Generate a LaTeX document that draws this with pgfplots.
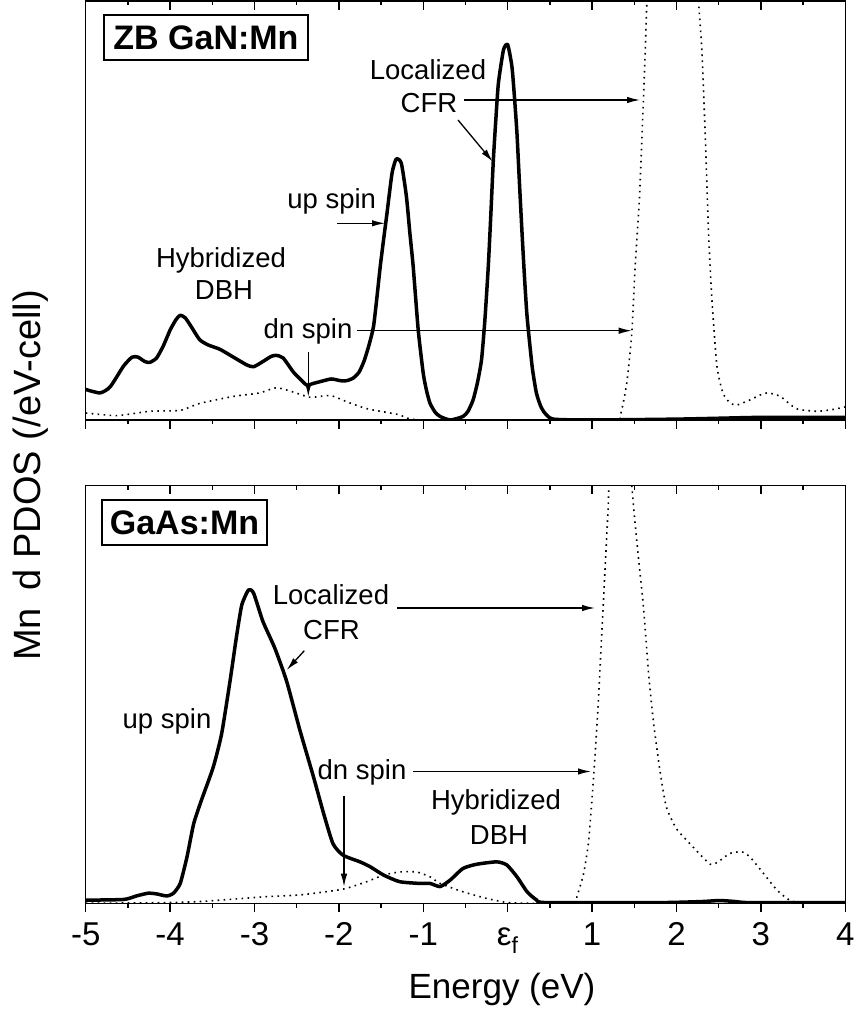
\documentclass[border=0pt]{standalone}
\usepackage{pgfplots}
\pgfplotsset{compat=1.18}
\usepackage{pgfplotstable}
\usepackage{fontspec}
\setmainfont{Liberation Sans}
\usetikzlibrary{arrows.meta}

\pgfplotstableread{
E v
-5.00 0.35
-4.83 0.31
-4.71 0.38
-4.55 0.62
-4.45 0.72
-4.38 0.72
-4.30 0.67
-4.24 0.66
-4.16 0.71
-4.08 0.85
-4.00 1.03
-3.93 1.15
-3.88 1.20
-3.82 1.17
-3.75 1.07
-3.65 0.92
-3.55 0.86
-3.41 0.81
-3.25 0.72
-3.09 0.63
-3.01 0.61
-2.90 0.67
-2.80 0.73
-2.74 0.74
-2.66 0.71
-2.54 0.55
-2.45 0.46
-2.38 0.40
-2.30 0.42
-2.22 0.44
-2.09 0.47
-1.98 0.45
-1.91 0.45
-1.83 0.48
-1.76 0.55
-1.70 0.68
-1.64 0.87
-1.59 1.07
-1.55 1.40
-1.51 1.76
-1.47 2.07
-1.43 2.37
-1.37 2.83
-1.32 2.99
-1.26 2.94
-1.20 2.56
-1.16 2.15
-1.12 1.76
-1.06 1.03
-1.00 0.53
-0.96 0.33
-0.92 0.19
-0.86 0.09
-0.80 0.04
-0.68 0.00
-0.53 0.04
-0.47 0.10
-0.41 0.23
-0.36 0.42
-0.31 0.69
-0.27 1.15
-0.23 1.76
-0.20 2.35
-0.17 2.98
-0.14 3.45
-0.11 3.86
-0.05 4.24
0.00 4.30
0.05 4.05
0.08 3.70
0.11 3.28
0.14 2.70
0.17 2.14
0.20 1.62
0.23 1.18
0.29 0.61
0.34 0.31
0.39 0.16
0.44 0.08
0.54 0.01
1.00 0.00
2.00 0.01
2.50 0.02
3.00 0.03
4.00 0.03
}\topup

\pgfplotstableread{
E v
-5.00 0.08
-4.63 0.05
-4.24 0.10
-3.88 0.11
-3.65 0.19
-3.25 0.27
-2.94 0.31
-2.74 0.37
-2.54 0.32
-2.34 0.26
-2.10 0.28
-1.91 0.21
-1.67 0.13
-1.28 0.06
-1.00 0.00
1.22 0.00
1.33 0.04
1.41 0.42
1.47 0.99
1.51 1.76
1.56 2.52
1.60 3.47
1.63 4.24
1.65 4.81
1.70 5.8
1.80 7.5
1.95 8.5
2.10 7.5
2.20 5.8
2.26 4.81
2.30 4.24
2.34 3.28
2.38 2.14
2.42 1.37
2.48 0.61
2.55 0.31
2.63 0.20
2.71 0.17
2.87 0.23
3.00 0.29
3.09 0.31
3.23 0.27
3.42 0.13
3.66 0.10
3.85 0.12
4.00 0.15
}\topdn

\pgfplotstableread{
E v
-5.00 0.09
-4.55 0.11
-4.40 0.21
-4.26 0.29
-4.16 0.27
-4.04 0.21
-3.96 0.29
-3.88 0.57
-3.80 1.33
-3.72 2.29
-3.63 2.95
-3.49 3.90
-3.39 4.86
-3.29 6.38
-3.21 7.71
-3.15 8.57
-3.07 9.00
-3.01 8.90
-2.90 8.09
-2.76 7.33
-2.62 6.38
-2.46 4.95
-2.30 3.62
-2.18 2.57
-2.07 1.71
-1.95 1.38
-1.75 1.19
-1.63 1.05
-1.47 0.81
-1.28 0.62
-1.04 0.57
-0.92 0.57
-0.80 0.48
-0.68 0.67
-0.53 1.00
-0.37 1.12
-0.13 1.19
-0.01 1.10
0.11 0.76
0.23 0.33
0.34 0.10
0.46 0.02
1.80 0.02
2.30 0.05
2.51 0.08
2.70 0.05
2.87 0.02
4.00 0.02
}\botup

\pgfplotstableread{
E v
-5.00 0.00
-4.04 0.02
-3.65 0.05
-3.25 0.12
-2.86 0.19
-2.46 0.24
-2.07 0.36
-1.91 0.43
-1.67 0.62
-1.47 0.81
-1.28 0.90
-1.08 0.90
-0.92 0.76
-0.80 0.57
-0.53 0.33
-0.25 0.14
0.00 0.02
0.27 0.00
0.78 0.00
0.82 0.19
0.90 0.86
0.96 1.81
1.02 3.71
1.07 5.62
1.11 7.52
1.15 9.43
1.19 11.33
1.20 12.0
1.25 14.0
1.33 15.5
1.42 14.0
1.47 12.0
1.53 10.38
1.61 8.47
1.67 6.57
1.73 5.14
1.81 3.71
1.88 2.76
2.00 2.14
2.16 1.71
2.40 1.12
2.51 1.22
2.63 1.43
2.77 1.48
2.87 1.33
3.03 0.86
3.19 0.38
3.34 0.09
3.50 0.00
4.00 0.00
}\botdn

\pgfplotsset{
  frame/.style={scale only axis, width=759.6pt, xmin=-5, xmax=4,
    anchor=south west,
    axis line style={line width=1.4pt},
    every tick/.style={line width=1.4pt, black},
    xtick={-5,-4,...,4}, minor x tick num=1,
    ytick=\empty, xticklabels={}, yticklabels={},
    major tick length=9pt, minor tick length=4.5pt},
  upline/.style={black, line width=3.5pt, line join=round, smooth, tension=0.35},
  dnline/.style={black, line width=1.6pt, dash pattern=on 1.6pt off 4.4pt, smooth, tension=0.35},
}

\newcommand{\ann}{\fontsize{27.5}{33}\selectfont}
\tikzset{arr/.style={line width=1.3pt, -{Latex[length=13pt,width=6.5pt]}}}

\begin{document}
\begin{tikzpicture}[x=1pt,y=1pt]
\useasboundingbox (0pt,0pt) rectangle (856pt,1013pt);

% ---------- top panel ----------
\begin{axis}[frame, height=419pt, ymin=0, ymax=4.8, at={(85.7pt,593pt)},
  tick align=outside, xtick pos=left]
\addplot[upline] table {\topup};
\addplot[dnline] table {\topdn};
\end{axis}
\begin{axis}[frame, height=419pt, ymin=0, ymax=4.8, at={(85.7pt,593pt)},
  tick align=inside, xtick pos=right, minor ytick={0,1,2,3,4}, ytick pos=both]
\end{axis}

% ---------- bottom panel ----------
\begin{axis}[frame, height=418pt, ymin=0, ymax=12, at={(85.7pt,109.7pt)},
  tick align=outside, xtick pos=left,
  xticklabels={-5,-4,-3,-2,-1,{ε\textsubscript{f}},1,2,3,4},
  xticklabel style={font=\fontsize{33}{38}\selectfont, anchor=base, yshift=-33.1pt}]
\addplot[upline] table {\botup};
\addplot[dnline] table {\botdn};
\end{axis}
\begin{axis}[frame, height=418pt, ymin=0, ymax=12, at={(85.7pt,109.7pt)},
  tick align=inside, xtick pos=right, minor ytick={0,1,...,12}, ytick pos=both]
\end{axis}

% ---------- axis titles ----------
\node[anchor=base, font=\fontsize{35}{40}\selectfont] at (502pt,14.7pt) {Energy (eV)};
\node[anchor=base, rotate=90, font=\fontsize{38}{42}\selectfont] at (40pt,537.5pt) {Mn\hspace{18pt}d PDOS (/eV-cell)};

% ---------- top annotations ----------
\node[draw, line width=2pt, minimum width=204pt, minimum height=45pt, inner sep=0pt,
  font=\bfseries\fontsize{34}{40}\selectfont] at (206pt,975.5pt) {ZB GaN:Mn};
\node[anchor=base, font=\ann] at (428pt,933pt) {Localized};
\node[anchor=base, font=\ann] at (429pt,900pt) {CFR};
\draw[arr] (464pt,913pt) -- (640pt,913pt);
\draw[arr] (458pt,893pt) -- (492.7pt,851.3pt);
\node[anchor=base, font=\ann] at (331.7pt,804.7pt) {up spin};
\draw[arr] (337.3pt,789.7pt) -- (385pt,789.7pt);
\node[anchor=base, font=\ann] at (221pt,745.7pt) {Hybridized};
\node[anchor=base, font=\ann] at (224pt,713pt) {DBH};
\node[anchor=base, font=\ann] at (308pt,674.7pt) {dn spin};
\draw[arr] (356.7pt,682.3pt) -- (631.7pt,682.3pt);
\draw[arr] (308.3pt,661.3pt) -- (308.3pt,616.3pt);

% ---------- bottom annotations ----------
\node[draw, line width=2pt, minimum width=165pt, minimum height=45pt, inner sep=0pt,
  font=\bfseries\fontsize{34}{40}\selectfont] at (184.5pt,490.5pt) {GaAs:Mn};
\node[anchor=base, font=\ann] at (331pt,408pt) {Localized};
\node[anchor=base, font=\ann] at (331.5pt,373pt) {CFR};
\draw[arr] (397pt,405pt) -- (595pt,405pt);
\draw[arr] (304.3pt,362.3pt) -- (286.7pt,343pt);
\node[anchor=base, font=\ann] at (167pt,284pt) {up spin};
\node[anchor=base, font=\ann] at (362pt,233pt) {dn spin};
\draw[arr] (413pt,241.5pt) -- (591pt,241.5pt);
\draw[arr] (344pt,217pt) -- (344pt,126.3pt);
\node[anchor=base, font=\ann] at (496pt,203.7pt) {Hybridized};
\node[anchor=base, font=\ann] at (499pt,168pt) {DBH};
\end{tikzpicture}
\end{document}
